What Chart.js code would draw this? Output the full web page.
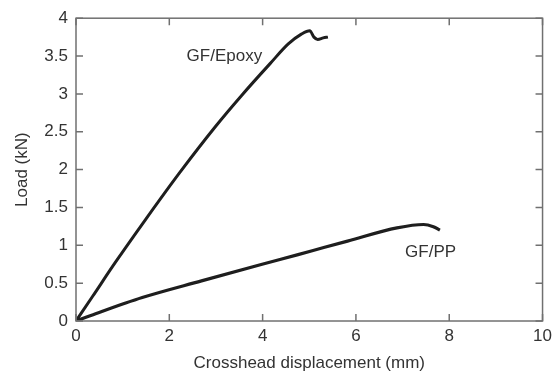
<!DOCTYPE html>
<html><head><meta charset="utf-8">
<script src="https://cdn.jsdelivr.net/npm/chart.js@4.4.0/dist/chart.umd.min.js"></script>
<style>html,body{margin:0;padding:0;background:#fff;}#wrap{width:557px;height:374px;}</style>
</head><body><div id="wrap"><canvas id="c" width="557" height="374"></canvas></div>
<script>
const epoxyX = [0, 0.35, 0.85, 1.49, 2.21, 2.99, 3.55, 4.16, 4.55, 4.83, 5.01, 5.10, 5.18, 5.30, 5.40];
const epoxyY = [0, 0.32, 0.78, 1.34, 1.95, 2.57, 2.98, 3.40, 3.66, 3.79, 3.835, 3.75, 3.72, 3.74, 3.75];
const ppX = [0, 0.42, 1.42, 2.69, 3.97, 4.76, 5.31, 5.82, 6.88, 7.45, 7.66, 7.80];
const ppY = [0, 0.096, 0.31, 0.53, 0.747, 0.877, 0.97, 1.055, 1.23, 1.275, 1.245, 1.20];
const xTicks = [0, 2, 4, 6, 8, 10];
const yTicks = [0, 0.5, 1, 1.5, 2, 2.5, 3, 3.5, 4];
const labels = [{text: 'GF/Epoxy', x: 3.18, y: 3.50}, {text: 'GF/PP', x: 7.6, y: 0.91}];

const toPts = (xs, ys) => xs.map((x, i) => ({x: x, y: ys[i]}));
const FONT = '"Liberation Sans", Arial, sans-serif';
const FS = 17;

const framePlugin = {
  id: 'frame',
  afterDatasetsDraw(chart) {
    const ctx = chart.ctx, a = chart.chartArea, sx = chart.scales.x, sy = chart.scales.y;
    ctx.save();
    ctx.strokeStyle = '#707070';
    ctx.lineWidth = 1.5;
    ctx.strokeRect(a.left, a.top, a.right - a.left, a.bottom - a.top);
    const L = 7;
    ctx.beginPath();
    xTicks.forEach(v => {
      const p = sx.getPixelForValue(v);
      ctx.moveTo(p, a.bottom); ctx.lineTo(p, a.bottom - L);
      ctx.moveTo(p, a.top); ctx.lineTo(p, a.top + L);
    });
    yTicks.forEach(v => {
      const p = sy.getPixelForValue(v);
      ctx.moveTo(a.left, p); ctx.lineTo(a.left + L, p);
      ctx.moveTo(a.right, p); ctx.lineTo(a.right - L, p);
    });
    ctx.stroke();
    ctx.fillStyle = '#333';
    ctx.font = FS + 'px ' + FONT;
    ctx.textAlign = 'center';
    ctx.textBaseline = 'middle';
    labels.forEach(l => ctx.fillText(l.text, sx.getPixelForValue(l.x), sy.getPixelForValue(l.y)));
    ctx.restore();
  }
};

new Chart(document.getElementById('c'), {
  type: 'scatter',
  data: {
    datasets: [
      {label: 'GF/Epoxy', data: toPts(epoxyX, epoxyY), showLine: true, borderColor: '#1e1e1e', borderWidth: 3, pointRadius: 0, cubicInterpolationMode: 'monotone'},
      {label: 'GF/PP', data: toPts(ppX, ppY), showLine: true, borderColor: '#1e1e1e', borderWidth: 3.2, pointRadius: 0, cubicInterpolationMode: 'monotone'}
    ]
  },
  options: {
    responsive: false,
    animation: false,
    layout: {padding: {top: 13, right: 10, left: 8, bottom: 0}},
    plugins: {legend: {display: false}, tooltip: {enabled: false}},
    scales: {
      x: {
        type: 'linear', min: 0, max: 10,
        afterBuildTicks: s => { s.ticks = xTicks.map(v => ({value: v})); },
        afterFit: s => { s.height = 53; },
        grid: {display: false, drawTicks: false},
        border: {display: false},
        ticks: {color: '#333', font: {size: FS, family: FONT}, padding: 5, callback: v => String(v)},
        title: {display: true, text: 'Crosshead displacement (mm)', color: '#333', font: {size: FS, family: FONT}, padding: {top: 2, bottom: 0}}
      },
      y: {
        type: 'linear', min: 0, max: 4,
        afterBuildTicks: s => { s.ticks = yTicks.map(v => ({value: v})); },
        afterFit: s => { s.width = 68; },
        grid: {display: false, drawTicks: false},
        border: {display: false},
        ticks: {color: '#333', font: {size: FS, family: FONT}, padding: 8, callback: v => String(v)},
        title: {display: true, text: 'Load (kN)', color: '#333', font: {size: FS, family: FONT}, padding: {top: 4, bottom: 0}}
      }
    }
  },
  plugins: [framePlugin]
});
</script></body></html>
